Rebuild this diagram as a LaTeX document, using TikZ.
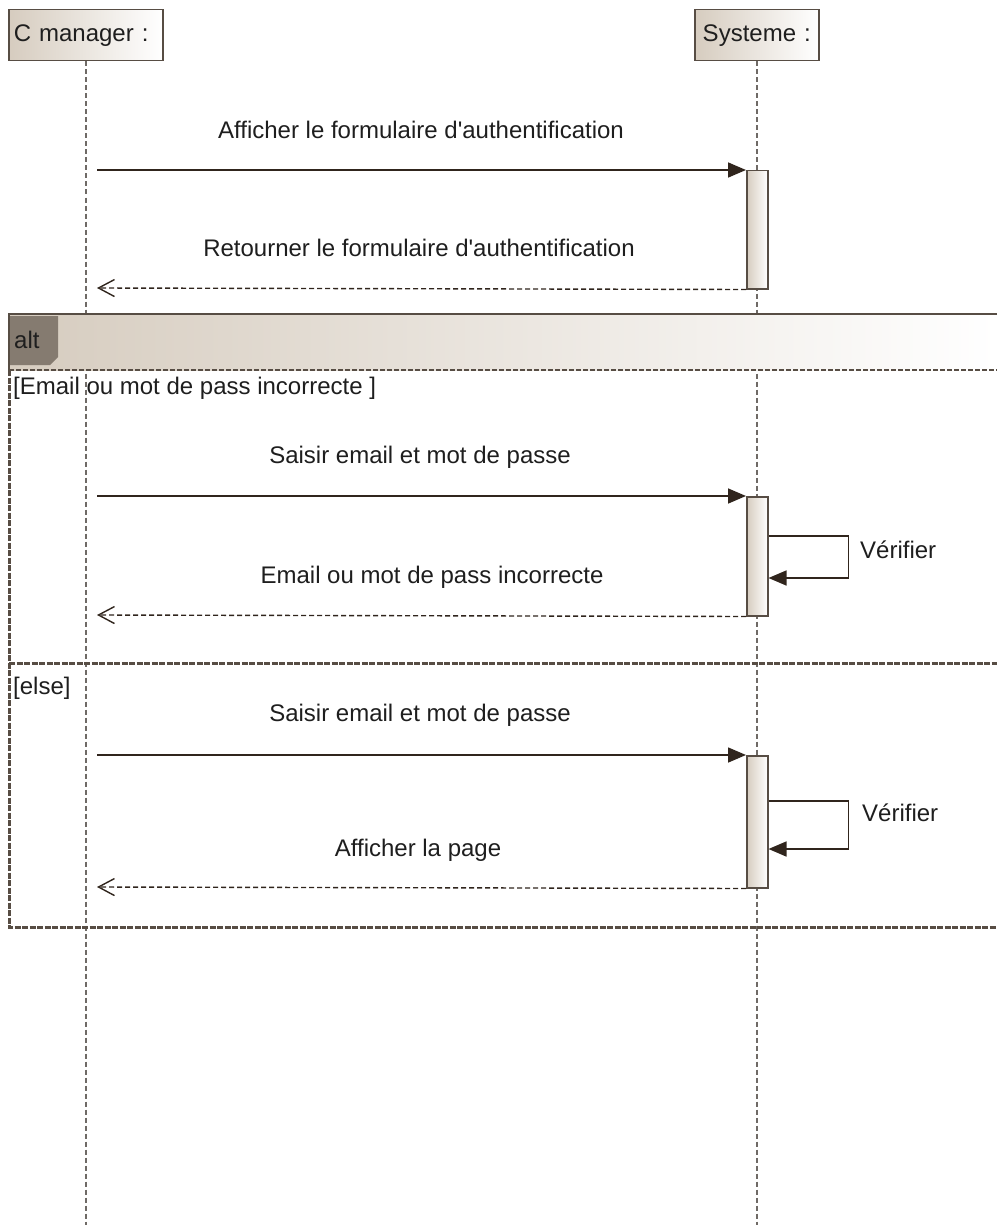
\documentclass[tikz,border=0pt]{standalone}
\usepackage{fontspec}
\setmainfont{Liberation Sans}
\usetikzlibrary{arrows.meta,calc}
\definecolor{edge}{HTML}{574D44}
\definecolor{ink}{HTML}{30251D}
\definecolor{tanc}{HTML}{D6CCBF}
\definecolor{tabc}{HTML}{857B70}
\definecolor{lifec}{HTML}{6F6A66}
\definecolor{txt}{HTML}{1E1E1E}
\begin{document}
\begin{tikzpicture}[x=1pt,y=-1pt,
  font=\fontsize{24}{28}\selectfont,
  lbl/.style={text=txt, inner sep=0pt},
  head/.style={draw=edge, line width=1.5pt, left color=tanc, right color=white, inner sep=0pt, anchor=north west, text=txt},
  act/.style={draw=edge, line width=1.5pt, left color=tanc, right color=white, inner sep=0pt, anchor=north west},
  lifeline/.style={draw=lifec, line width=1.5pt, dash pattern=on 5pt off 3pt},
  msg/.style={draw=ink, line width=1.6pt, -{Triangle[length=18pt,width=15pt]}},
  ret/.style={draw=ink, line width=1.4pt, dash pattern=on 5pt off 3pt, -{Straight Barb[length=16pt,width=17pt,line width=1.4pt]}},
  framel/.style={draw=edge, line width=3pt, dash pattern=on 6pt off 1.5pt},
  frames/.style={draw=edge, line width=2.5pt}]
\useasboundingbox (0,0) rectangle (997,1225);

% lifeline heads
\node[head, minimum width=154pt, minimum height=51pt, text width=144pt, align=left, inner xsep=5pt] (cm) at (8,9) {C manager :};
\node[head, minimum width=124pt, minimum height=51pt, text width=124pt, align=center] (sys) at (694,9) {Systeme :};

% lifelines
\coordinate (cmend) at (cm.south |- 0,1225);
\coordinate (sysend) at (sys.south |- 0,1225);
\draw[lifeline] (cm.south) -- (cmend);
\draw[lifeline] (sys.south) -- (sysend);

% alt frame
\shade[left color=tanc, right color=white] (9,314) rectangle (997,370);
\draw[frames] (997,314) -- (9,314) -- (9,370);
\draw[framel] (9,370) -- (9,927) -- (997,927);
\draw[draw=edge, line width=2.2pt, dash pattern=on 5pt off 2pt] (9,370) -- (997,370);
\draw[framel] (9,663) -- (997,663);
\fill[tabc] (10,316) -- (58,316) -- (58,357) -- (50,365) -- (10,365) -- cycle;
\node[lbl, anchor=west] (alt) at (14,340) {alt};
\node[lbl, anchor=west] (g1) at (13,388) {[Email ou mot de pass incorrecte ]};
\node[lbl, anchor=west] (g2) at (13,688) {[else]};

% activation boxes
\node[act, minimum width=21pt, minimum height=118pt] (a1) at (746,170) {};
\node[act, minimum width=21pt, minimum height=119pt] (a2) at (746,496) {};
\node[act, minimum width=21pt, minimum height=132pt] (a3) at (746,755) {};

% message 1
\coordinate (s1) at (97,170);
\coordinate (r1) at (97,288);
\draw[msg] (s1) -- (a1.north west);
\draw[ret] (a1.south west) -- (r1);
\node[lbl] (t1) at (421,130) {Afficher le formulaire d\textquotesingle authentification};
\node[lbl] (t2) at (419,248) {Retourner le formulaire d\textquotesingle authentification};

% message 2
\coordinate (s2) at (97,496);
\coordinate (r2) at (97,615);
\draw[msg] (s2) -- (a2.north west);
\draw[ret] (a2.south west) -- (r2);
\node[lbl] (t3) at (420,457) {Saisir email et mot de passe};
\node[lbl] (t4) at (432,577) {Email ou mot de pass incorrecte};
\coordinate (l2a) at ($(a2.north east)+(0,40)$);
\coordinate (l2b) at ($(a2.north east)+(0,82)$);
\draw[msg] (l2a) -- ++(80,0) -- ++(0,42) -- (l2b);
\node[lbl, anchor=west] (v1) at (860,550) {Vérifier};

% message 3
\coordinate (s3) at (97,755);
\coordinate (r3) at (97,887);
\draw[msg] (s3) -- (a3.north west);
\draw[ret] (a3.south west) -- (r3);
\node[lbl] (t5) at (420,715) {Saisir email et mot de passe};
\node[lbl] (t6) at (418,850) {Afficher la page};
\coordinate (l3a) at ($(a3.north east)+(0,46)$);
\coordinate (l3b) at ($(a3.north east)+(0,94)$);
\draw[msg] (l3a) -- ++(80,0) -- ++(0,48) -- (l3b);
\node[lbl, anchor=west] (v2) at (862,813) {Vérifier};
\end{tikzpicture}
\end{document}
